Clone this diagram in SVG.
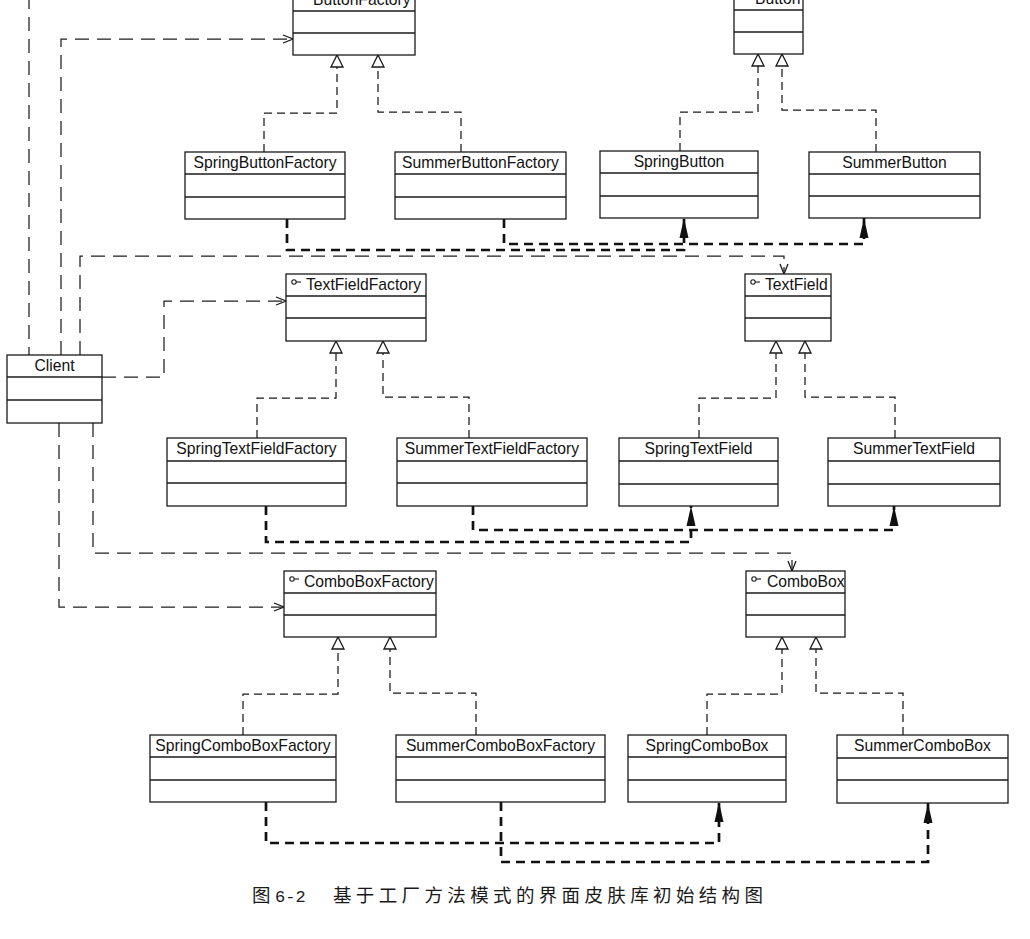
<svg xmlns="http://www.w3.org/2000/svg" width="1030" height="939" viewBox="0 0 1030 939">
<style>
  .box rect{fill:#fff;stroke:#1a1a1a;stroke-width:1.3}
  .box line{stroke:#1a1a1a;stroke-width:1.3}
  .lbl{font-family:"Liberation Sans",Arial,sans-serif;font-size:15.7px;fill:#111}
  .c{text-anchor:middle}
  .ico circle{fill:none;stroke:#1a1a1a;stroke-width:1.1}
  .ico line{stroke:#1a1a1a;stroke-width:1.1}
  .dep{fill:none;stroke:#1f1f1f;stroke-width:1.25;stroke-dasharray:14 8;marker-end:url(#open)}
  .real{fill:none;stroke:#1a1a1a;stroke-width:1.25;stroke-dasharray:8 5;marker-end:url(#tri)}
  .bold{fill:none;stroke:#111;stroke-width:2.7;stroke-dasharray:9 6;marker-end:url(#fill)}
  .cap{font-family:"Noto Sans CJK SC","Noto Sans CJK JP",sans-serif;font-size:18.5px;fill:#1a1a1a}
  .capn{font-family:"Liberation Mono","Courier New",monospace;font-size:17px;fill:#1a1a1a}
</style>
<defs>
  <marker id="open" markerUnits="userSpaceOnUse" orient="auto" overflow="visible" refX="0" refY="0" markerWidth="12" markerHeight="10">
    <path d="M-10,-4 L0,0 L-10,4" fill="none" stroke="#1a1a1a" stroke-width="1.3" stroke-dasharray="none"/>
  </marker>
  <marker id="tri" markerUnits="userSpaceOnUse" orient="auto" overflow="visible" refX="0" refY="0" markerWidth="14" markerHeight="14">
    <path d="M0,-6 L12,0 L0,6 Z" fill="#fff" stroke="#1a1a1a" stroke-width="1.3" stroke-dasharray="none"/>
  </marker>
  <marker id="fill" markerUnits="userSpaceOnUse" orient="auto" overflow="visible" refX="0" refY="0" markerWidth="20" markerHeight="10">
    <path d="M0,0 L-20,-4.5 L-20,4.5 Z" fill="#111" stroke="none"/>
  </marker>
</defs>
<rect x="0" y="0" width="1030" height="939" fill="#fff"/>

<g id="connectors">
  <path class="dep" style="marker-end:none" d="M29,-5 V355"/>
  <path class="dep" d="M61,355 V39 H293"/>
  <path class="dep" d="M80,355 V256 H784 V274"/>
  <path class="dep" d="M102,377 H164 V301 H286"/>
  <path class="dep" d="M59,423 V607 H284"/>
  <path class="dep" d="M93,423 V553 H792 V571"/>

  <path class="real" d="M264,152 V113 H337 V67"/>
  <path class="real" d="M461,152 V112 H378 V67"/>
  <path class="real" d="M680,151 V112 H758 V66"/>
  <path class="real" d="M876,152 V110 H782 V66"/>
  <path class="real" d="M257,438 V398 H336 V353"/>
  <path class="real" d="M469,438 V397 H383 V353"/>
  <path class="real" d="M699,438 V398 H776 V353"/>
  <path class="real" d="M895,438 V397 H805 V353"/>
  <path class="real" d="M243,735 V694 H338 V649"/>
  <path class="real" d="M476,735 V693 H390 V649"/>
  <path class="real" d="M707,735 V694 H782 V649"/>
  <path class="real" d="M903,735 V693 H816 V649"/>

  <path class="bold" d="M287,219 V250 H684 V218"/>
  <path class="bold" d="M504,219 V244 H864 V218"/>
  <path class="bold" d="M266,506 V542 H691 V506"/>
  <path class="bold" d="M473,506 V530 H894 V506"/>
  <path class="bold" d="M266,802 V843 H719 V802"/>
  <path class="bold" d="M501,802 V862 H928 V803"/>
</g>

<g id="ButtonFactory" class="box">
  <rect x="293" y="-11" width="122" height="66"/>
  <line x1="293" y1="11" x2="415" y2="11"/><line x1="293" y1="33" x2="415" y2="33"/>
  <g class="ico"><circle cx="301" cy="-3" r="2.2"/><line x1="303.2" y1="-3" x2="308" y2="-3"/></g>
  <text class="lbl" x="313" y="5">ButtonFactory</text>
</g>
<g id="Button" class="box">
  <rect x="734" y="-12" width="69" height="66"/>
  <line x1="734" y1="10" x2="803" y2="10"/><line x1="734" y1="32" x2="803" y2="32"/>
  <g class="ico"><circle cx="742" cy="-4" r="2.2"/><line x1="744.2" y1="-4" x2="749" y2="-4"/></g>
  <text class="lbl" x="755" y="4">Button</text>
</g>
<g id="SpringButtonFactory" class="box">
  <rect x="185" y="152" width="160" height="67"/>
  <line x1="185" y1="174" x2="345" y2="174"/><line x1="185" y1="197" x2="345" y2="197"/>
  <text class="lbl c" x="265" y="168">SpringButtonFactory</text>
</g>
<g id="SummerButtonFactory" class="box">
  <rect x="395" y="152" width="171" height="67"/>
  <line x1="395" y1="174" x2="566" y2="174"/><line x1="395" y1="197" x2="566" y2="197"/>
  <text class="lbl c" x="480.5" y="168">SummerButtonFactory</text>
</g>
<g id="SpringButton" class="box">
  <rect x="600" y="151" width="158" height="67"/>
  <line x1="600" y1="173" x2="758" y2="173"/><line x1="600" y1="196" x2="758" y2="196"/>
  <text class="lbl c" x="679" y="167">SpringButton</text>
</g>
<g id="SummerButton" class="box">
  <rect x="809" y="152" width="171" height="66"/>
  <line x1="809" y1="174" x2="980" y2="174"/><line x1="809" y1="196" x2="980" y2="196"/>
  <text class="lbl c" x="894.5" y="168">SummerButton</text>
</g>

<g id="TextFieldFactory" class="box">
  <rect x="286" y="274" width="140" height="67"/>
  <line x1="286" y1="296" x2="426" y2="296"/><line x1="286" y1="318" x2="426" y2="318"/>
  <g class="ico"><circle cx="294" cy="282" r="2.2"/><line x1="296.2" y1="282" x2="301" y2="282"/></g>
  <text class="lbl" x="306" y="290">TextFieldFactory</text>
</g>
<g id="TextField" class="box">
  <rect x="745" y="274" width="86" height="67"/>
  <line x1="745" y1="296" x2="831" y2="296"/><line x1="745" y1="318" x2="831" y2="318"/>
  <g class="ico"><circle cx="753" cy="282" r="2.2"/><line x1="755.2" y1="282" x2="760" y2="282"/></g>
  <text class="lbl" x="765" y="290">TextField</text>
</g>
<g id="Client" class="box">
  <rect x="7" y="355" width="95" height="68"/>
  <line x1="7" y1="377" x2="102" y2="377"/><line x1="7" y1="400" x2="102" y2="400"/>
  <text class="lbl c" x="54.5" y="371">Client</text>
</g>
<g id="SpringTextFieldFactory" class="box">
  <rect x="167" y="438" width="179" height="68"/>
  <line x1="167" y1="461" x2="346" y2="461"/><line x1="167" y1="483" x2="346" y2="483"/>
  <text class="lbl c" x="256.5" y="454">SpringTextFieldFactory</text>
</g>
<g id="SummerTextFieldFactory" class="box">
  <rect x="397" y="438" width="190" height="68"/>
  <line x1="397" y1="461" x2="587" y2="461"/><line x1="397" y1="483" x2="587" y2="483"/>
  <text class="lbl c" x="492" y="454">SummerTextFieldFactory</text>
</g>
<g id="SpringTextField" class="box">
  <rect x="619" y="438" width="159" height="68"/>
  <line x1="619" y1="461" x2="778" y2="461"/><line x1="619" y1="484" x2="778" y2="484"/>
  <text class="lbl c" x="698.5" y="454">SpringTextField</text>
</g>
<g id="SummerTextField" class="box">
  <rect x="828" y="438" width="172" height="68"/>
  <line x1="828" y1="461" x2="1000" y2="461"/><line x1="828" y1="484" x2="1000" y2="484"/>
  <text class="lbl c" x="914" y="454">SummerTextField</text>
</g>

<g id="ComboBoxFactory" class="box">
  <rect x="284" y="571" width="152" height="66"/>
  <line x1="284" y1="593" x2="436" y2="593"/><line x1="284" y1="615" x2="436" y2="615"/>
  <g class="ico"><circle cx="292" cy="579" r="2.2"/><line x1="294.2" y1="579" x2="299" y2="579"/></g>
  <text class="lbl" x="304" y="587">ComboBoxFactory</text>
</g>
<g id="ComboBox" class="box">
  <rect x="746" y="571" width="99" height="66"/>
  <line x1="746" y1="593" x2="845" y2="593"/><line x1="746" y1="615" x2="845" y2="615"/>
  <g class="ico"><circle cx="754" cy="579" r="2.2"/><line x1="756.2" y1="579" x2="761" y2="579"/></g>
  <text class="lbl" x="767" y="587">ComboBox</text>
</g>
<g id="SpringComboBoxFactory" class="box">
  <rect x="150" y="735" width="186" height="67"/>
  <line x1="150" y1="757" x2="336" y2="757"/><line x1="150" y1="780" x2="336" y2="780"/>
  <text class="lbl c" x="243" y="751">SpringComboBoxFactory</text>
</g>
<g id="SummerComboBoxFactory" class="box">
  <rect x="396" y="735" width="209" height="67"/>
  <line x1="396" y1="757" x2="605" y2="757"/><line x1="396" y1="780" x2="605" y2="780"/>
  <text class="lbl c" x="500.5" y="751">SummerComboBoxFactory</text>
</g>
<g id="SpringComboBox" class="box">
  <rect x="628" y="735" width="158" height="67"/>
  <line x1="628" y1="757" x2="786" y2="757"/><line x1="628" y1="780" x2="786" y2="780"/>
  <text class="lbl c" x="707" y="751">SpringComboBox</text>
</g>
<g id="SummerComboBox" class="box">
  <rect x="837" y="735" width="171" height="68"/>
  <line x1="837" y1="758" x2="1008" y2="758"/><line x1="837" y1="780" x2="1008" y2="780"/>
  <text class="lbl c" x="922.5" y="751">SummerComboBox</text>
</g>

<g id="caption">
  <text class="cap" x="252" y="902">图</text>
  <text class="capn" x="275" y="902">6-2</text>
  <text class="cap" x="333" y="902" textLength="430" lengthAdjust="spacing">基于工厂方法模式的界面皮肤库初始结构图</text>
</g>
</svg>
